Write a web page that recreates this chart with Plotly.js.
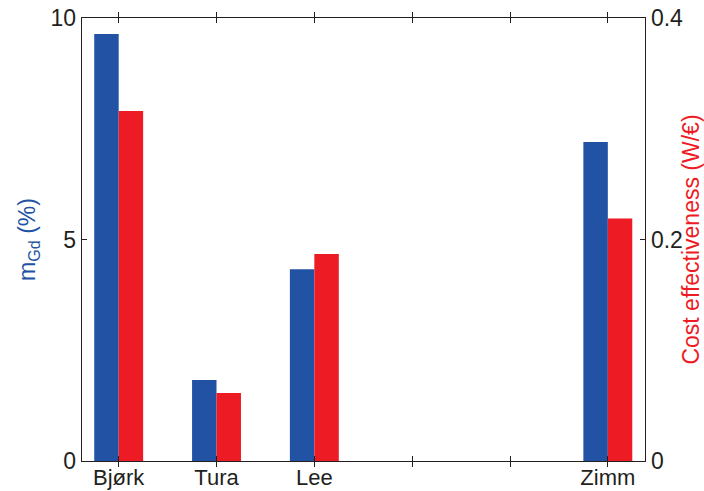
<!DOCTYPE html>
<html>
<head>
<meta charset="utf-8">
<script src="https://cdn.plot.ly/plotly-3.0.1.min.js"></script>
<style>html,body{margin:0;padding:0;background:#fff;}#chart{width:704px;height:491px;}</style>
</head>
<body>
<div id="chart"></div>
<script>
const categories = ['Bjørk', 'Tura', 'Lee', '', '', 'Zimm'];
const mGd = [9.64, 1.83, 4.33, null, null, 7.20];
const costEffectiveness = [0.316, 0.0614, 0.187, null, null, 0.219];
const leftTicks = [0, 5, 10];
const rightTicks = [0, 0.2, 0.4];

const xPos = categories.map((_, i) => i + 1);
const BLUE = '#2152A3';
const RED = '#ED1C24';
const INK = '#231F20';
const FONT = 'Liberation Sans, Arial, sans-serif';

const traces = [
  {type: 'bar', x: xPos, y: mGd, width: 0.25, offset: -0.25,
   marker: {color: BLUE, line: {width: 0}}, yaxis: 'y', hoverinfo: 'none'},
  {type: 'bar', x: xPos, y: costEffectiveness, width: 0.25, offset: 0,
   marker: {color: RED, line: {width: 0}}, yaxis: 'y2', hoverinfo: 'none'}
];

const layout = {
  width: 704, height: 491,
  margin: {l: 82, r: 59, t: 18, b: 30},
  paper_bgcolor: '#fff', plot_bgcolor: '#fff',
  showlegend: false,
  barmode: 'overlay',
  font: {family: FONT, color: INK, size: 22},
  xaxis: {
    range: [0.625, 6.38], tickmode: 'array', tickvals: xPos, ticktext: categories,
    ticks: 'inside', ticklen: 5, tickwidth: 1, tickcolor: INK,
    showline: true, linecolor: INK, linewidth: 1.3, mirror: 'allticks',
    showgrid: false, zeroline: false, ticklabelstandoff: -4,
    tickfont: {size: 22, color: INK, family: FONT}
  },
  yaxis: {
    range: [0, 10], tickmode: 'array', tickvals: leftTicks,
    ticks: 'inside', ticklen: 5, tickwidth: 1, tickcolor: INK,
    showline: true, linecolor: INK, linewidth: 1.3,
    showgrid: false, zeroline: false,
    tickfont: {size: 23, color: INK, family: FONT},
    title: {text: 'm<sub>Gd</sub> (%)', font: {size: 23, color: BLUE, family: FONT}, standoff: 8}
  },
  yaxis2: {
    range: [0, 0.4], tickmode: 'array', tickvals: rightTicks, ticktext: ['0', '0.2', '0.4'],
    overlaying: 'y', side: 'right',
    ticks: 'inside', ticklen: 5, tickwidth: 1, tickcolor: INK,
    showline: true, linecolor: INK, linewidth: 1.3,
    showgrid: false, zeroline: false,
    tickfont: {size: 23, color: INK, family: FONT},
    title: {text: 'Cost effectiveness (W/€)', font: {size: 23, color: RED, family: FONT}, standoff: 6}
  }
};

Plotly.newPlot('chart', traces, layout, {staticPlot: true, displayModeBar: false});
</script>
</body>
</html>
